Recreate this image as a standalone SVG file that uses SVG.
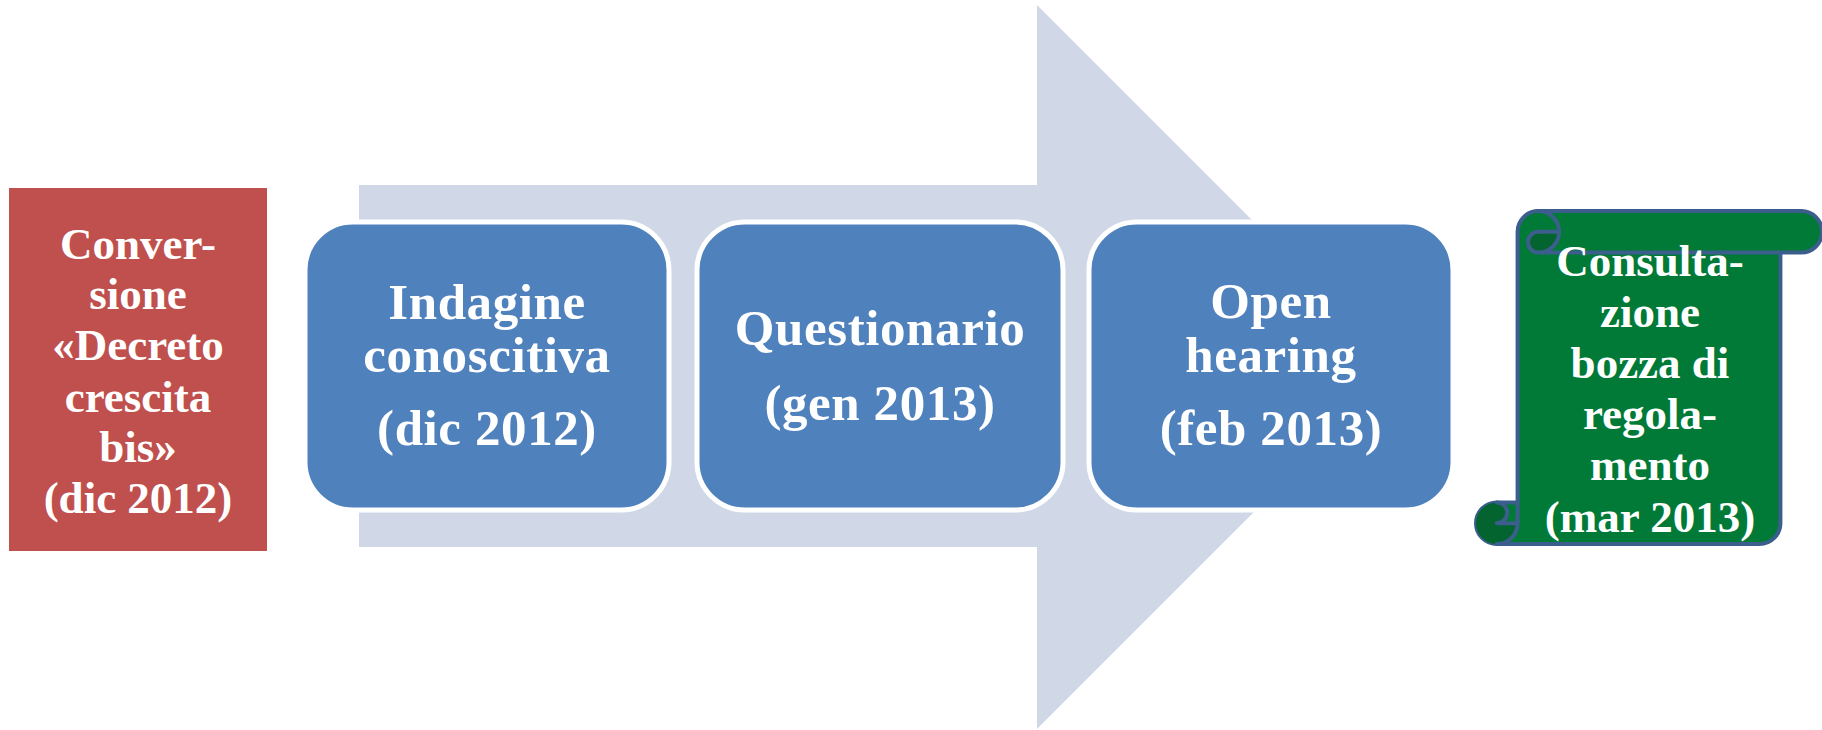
<svg xmlns="http://www.w3.org/2000/svg" width="1822" height="730" viewBox="0 0 1822 730">
<style>
.t{font-family:"Liberation Serif","Times New Roman",serif;font-weight:bold;fill:#FFFFFF;text-anchor:middle}
.big{font-size:51px;letter-spacing:0.6px}
.small{font-size:45px}
.box{fill:#4F81BD;stroke:#FFFFFF;stroke-width:5}
</style>
<rect width="1822" height="730" fill="#FFFFFF"/>
<g id="arrow">
<path d="M359,185 L1037,185 L1037,5 L1399,367 L1037,729 L1037,547 L359,547 Z" fill="#D0D8E8"/>
</g>
<g id="connectors"></g>
<g id="node-conversione">
<rect x="9" y="188" width="258" height="363" fill="#C0504D"/>
<text class="t small" x="138" y="259">Conver-</text>
<text class="t small" x="138" y="309">sione</text>
<text class="t small" x="138" y="360">«Decreto</text>
<text class="t small" x="138" y="412">crescita</text>
<text class="t small" x="138" y="462">bis»</text>
<text class="t small" x="138" y="513">(dic 2012)</text>
</g>
<g id="node-indagine">
<rect class="box" x="305" y="222" width="364" height="288" rx="48" ry="48"/>
<text class="t big" x="487" y="319">Indagine</text>
<text class="t big" x="487" y="372">conoscitiva</text>
<text class="t big" x="487" y="445">(dic 2012)</text>
</g>
<g id="node-questionario">
<rect class="box" x="697" y="222" width="366" height="288" rx="48" ry="48"/>
<text class="t big" x="880" y="345">Questionario</text>
<text class="t big" x="880" y="420">(gen 2013)</text>
</g>
<g id="node-hearing">
<rect class="box" x="1089" y="222" width="364" height="288" rx="48" ry="48"/>
<text class="t big" x="1271" y="318">Open</text>
<text class="t big" x="1271" y="372">hearing</text>
<text class="t big" x="1271" y="445">(feb 2013)</text>
</g>
<g id="node-consultazione">
<path d="M1517.6,502.4 L1517.6,231.8 A20.8,20.8 0 0 1 1538.4,211 L1801.2,211 A20.8,20.8 0 0 1 1801.2,252.6 L1780.4,252.6 L1780.4,523.2 A20.8,20.8 0 0 1 1759.6,544 L1496.8,544 A20.8,20.8 0 0 1 1496.8,502.4 Z" fill="#017A38" stroke="#3B5E8C" stroke-width="4" stroke-linejoin="round"/>
<path d="M1559.2,231.8 A20.8,20.8 0 0 1 1538.4,252.6 A10.4,10.4 0 0 1 1538.4,231.8 Z" fill="#03642F"/>
<path d="M1517.6,523.2 A20.8,20.8 0 1 1 1496.8,502.4 A10.4,10.4 0 0 1 1496.8,523.2 Z" fill="#03642F"/>
<path d="M1538.4,211 A20.8,20.8 0 0 1 1538.4,252.6 A10.4,10.4 0 0 1 1538.4,231.8 L1559.2,231.8 M1780.4,252.6 L1538.4,252.6 M1496.8,502.4 A10.4,10.4 0 0 1 1496.8,523.2 L1517.6,523.2 M1496.8,544 A20.8,20.8 0 0 0 1517.6,523.2 L1517.6,502.4" fill="none" stroke="#3B5E8C" stroke-width="4" stroke-linejoin="round" stroke-linecap="round"/>
<text class="t small" x="1650" y="276">Consulta-</text>
<text class="t small" x="1650" y="327">zione</text>
<text class="t small" x="1650" y="378">bozza di</text>
<text class="t small" x="1650" y="429">regola-</text>
<text class="t small" x="1650" y="480">mento</text>
<text class="t small" x="1650" y="532">(mar 2013)</text>
</g>
</svg>
